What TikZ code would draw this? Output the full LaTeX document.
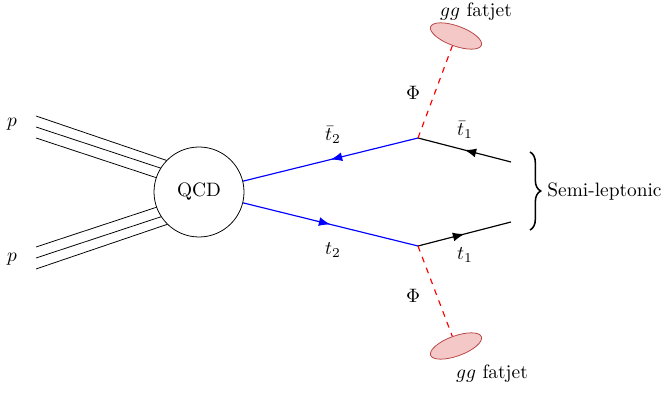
\documentclass[tikz,border=0pt]{standalone}
\usetikzlibrary{arrows.meta,decorations.markings,decorations.pathreplacing,shapes.geometric}
\definecolor{jetfill}{RGB}{245,200,200}
\definecolor{jetdraw}{RGB}{185,70,70}
\begin{document}
\begin{tikzpicture}[x=0.516pt,y=-0.516pt,
  fermion/.style={postaction={decorate},decoration={markings,mark=at position 0.5 with {\arrow{Latex[length=6pt,width=4.6pt]}}}},
  scalar/.style={red,dashed,semithick},
  fatjet/.style={ellipse,draw=jetdraw,fill=jetfill,minimum width=54*0.516pt,minimum height=20*0.516pt,inner sep=0pt},
  blob/.style={circle,draw,fill=white,minimum size=90*0.516pt,inner sep=0pt},
  lbl/.style={inner sep=0pt}]
\useasboundingbox (0,0) rectangle (665,393);
% proton lines
\coordinate (pa1) at (36,116); \coordinate (qa1) at (180,165);
\coordinate (pa2) at (36,127); \coordinate (qa2) at (180,174.5);
\coordinate (pa3) at (36,138); \coordinate (qa3) at (180,185.5);
\coordinate (pb1) at (36,269); \coordinate (qb1) at (180,220);
\coordinate (pb2) at (36,258); \coordinate (qb2) at (180,210.5);
\coordinate (pb3) at (36,247); \coordinate (qb3) at (180,199.5);
\draw (pa1) -- (qa1); \draw (pa2) -- (qa2); \draw (pa3) -- (qa3);
\draw (pb1) -- (qb1); \draw (pb2) -- (qb2); \draw (pb3) -- (qb3);
\node[lbl] (pA) at (12,124) {$p$};
\node[lbl] (pB) at (12,259) {$p$};
\node[blob] (qcd) at (199,192) {QCD};
% vertices
\coordinate (vt) at (418,138);
\coordinate (vb) at (418,246);
\coordinate (et) at (511,162);
\coordinate (eb) at (511,222);
\draw[blue,semithick,fermion] (vt) -- (qcd);
\draw[blue,semithick,fermion] (qcd) -- (vb);
\draw[semithick,fermion] (et) -- (vt);
\draw[semithick,fermion] (vb) -- (eb);
% fatjets
\node[fatjet,rotate=-20] (jt) at (456,36) {};
\node[fatjet,rotate=20] (jb) at (456,346) {};
\draw[scalar] (vt) -- (jt);
\draw[scalar] (vb) -- (jb);
% labels
\node[lbl] (lt2b) at (333,135) {$\bar{t}_2$};
\node[lbl] (lt2) at (333,250) {$t_2$};
\node[lbl] (lt1b) at (465,130) {$\bar{t}_1$};
\node[lbl] (lt1) at (465,255) {$t_1$};
\node[lbl] (phit) at (413,93) {$\Phi$};
\node[lbl] (phib) at (413,296) {$\Phi$};
\node[lbl] (gt) at (476,12) {$gg$ fatjet};
\node[lbl] (gb) at (492,374) {$gg$ fatjet};
% brace
\coordinate (bt) at (530,152);
\coordinate (bb) at (530,230);
\draw[thick,decorate,decoration={brace,amplitude=5.5pt}] (bt) -- (bb);
\node[lbl,anchor=west] (semi) at (547,192) {Semi-leptonic};
\end{tikzpicture}
\end{document}
